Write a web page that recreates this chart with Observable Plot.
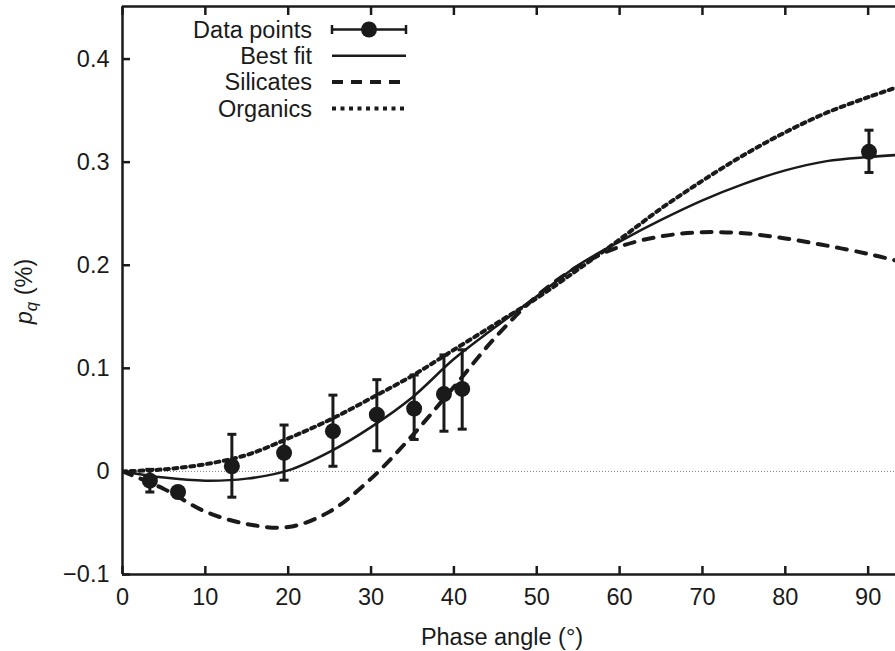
<!DOCTYPE html>
<html><head><meta charset="utf-8">
<script src="https://cdn.jsdelivr.net/npm/d3@7"></script>
<script src="https://cdn.jsdelivr.net/npm/@observablehq/plot@0.6"></script>
<style>
body{margin:0;background:#fff;overflow:hidden}
#chart{position:relative;width:895px;height:651px}
</style>
</head><body><div id="chart"></div>
<script>
// Data points (phase angle in degrees, p_q in %)
const angle  = [3.3, 6.7, 13.2, 19.5, 25.4, 30.7, 35.2, 38.8, 41.0, 90.1];
const pq     = [-0.009, -0.020, 0.005, 0.018, 0.039, 0.055, 0.061, 0.075, 0.080, 0.310];
const pqLow  = [-0.020, -0.024, -0.025, -0.0085, 0.005, 0.020, 0.031, 0.039, 0.041, 0.290];
const pqHigh = [0.002, -0.016, 0.036, 0.045, 0.074, 0.089, 0.0935, 0.113, 0.118, 0.331];

// Model curves
const curveAngle = [0, 5, 10, 15, 20, 25, 30, 35, 40, 45, 50, 55, 60, 65, 70, 75, 80, 85, 90, 93.6];
const bestFit    = [0, -0.006, -0.009, -0.007, 0.001, 0.019, 0.043, 0.072, 0.109, 0.140, 0.170, 0.200, 0.223, 0.244, 0.263, 0.279, 0.292, 0.301, 0.305, 0.307];
const silicates  = [0, -0.017, -0.039, -0.051, -0.054, -0.039, -0.007, 0.035, 0.082, 0.130, 0.170, 0.199, 0.218, 0.228, 0.232, 0.231, 0.226, 0.219, 0.211, 0.204];
const organics   = [0, 0.002, 0.007, 0.016, 0.032, 0.050, 0.071, 0.093, 0.118, 0.143, 0.168, 0.196, 0.225, 0.255, 0.282, 0.307, 0.329, 0.348, 0.363, 0.373];

// Axes
const xDomain = [0, 93.3];
const yDomain = [-0.1, 0.451];
const xTicks = [0, 10, 20, 30, 40, 50, 60, 70, 80, 90];
const xTickLabels = ["0", "10", "20", "30", "40", "50", "60", "70", "80", "90"];
const yTicks = [-0.1, 0, 0.1, 0.2, 0.3, 0.4];
const yTickLabels = ["\u22120.1", "0", "0.1", "0.2", "0.3", "0.4"];
const xLabel = ["Phase angle (\u00b0)"];
const legendLabels = ["Data points", "Best fit", "Silicates", "Organics"];

const ink = "#1a1a1a";
const rows = curveAngle.map((a, i) => ({a, best: bestFit[i], sil: silicates[i], org: organics[i]}));
const pts = angle.map((a, i) => ({a, y: pq[i], lo: pqLow[i], hi: pqHigh[i]}));
const capSymbol = {draw(ctx, size) { const w = Math.sqrt(size / Math.PI); ctx.moveTo(-w, 0); ctx.lineTo(w, 0); }};

const svgNode = Plot.plot({
  width: 895, height: 651,
  marginTop: 6, marginBottom: 77, marginLeft: 122, marginRight: 0,
  style: {fontFamily: "'Liberation Sans', Arial, Helvetica, sans-serif", fontSize: "23.5px", color: ink, background: "#fff", overflow: "visible"},
  x: {domain: xDomain},
  y: {domain: yDomain},
  marks: [
    Plot.ruleY([0], {stroke: "#808080", strokeWidth: 1, strokeDasharray: "1,2"}),
    Plot.line(rows, {x: "a", y: "sil", stroke: ink, strokeWidth: 4, strokeDasharray: "10,9.5", curve: "catmull-rom", clip: true}),
    Plot.line(rows, {x: "a", y: "org", stroke: ink, strokeWidth: 4, strokeDasharray: "4,4.5", curve: "catmull-rom", clip: true}),
    Plot.line(rows, {x: "a", y: "best", stroke: ink, strokeWidth: 2.5, curve: "catmull-rom", clip: true}),
    Plot.ruleX(pts, {x: "a", y1: "lo", y2: "hi", stroke: ink, strokeWidth: 3}),
    Plot.dot(pts, {x: "a", y: "lo", symbol: capSymbol, r: 4.5, stroke: ink, strokeWidth: 3, fill: "none"}),
    Plot.dot(pts, {x: "a", y: "hi", symbol: capSymbol, r: 4.5, stroke: ink, strokeWidth: 3, fill: "none"}),
    Plot.dot(pts, {x: "a", y: "y", r: 8, fill: ink, stroke: "none"}),
    Plot.ruleX([xDomain[0]], {stroke: ink, strokeWidth: 2.5}),
    Plot.ruleY(yDomain, {stroke: ink, strokeWidth: 2.5}),
    Plot.axisX(xTicks, {anchor: "bottom", tickSize: -8, strokeWidth: 2.5, text: null, label: null}),
    Plot.axisX(xTicks, {anchor: "top", tickSize: -8, strokeWidth: 2.5, text: null, label: null}),
    Plot.axisX(xTicks, {anchor: "bottom", tickSize: 0, tickPadding: 14, tickFormat: d => xTickLabels[xTicks.indexOf(d)], label: null}),
    Plot.axisY(yTicks, {anchor: "left", tickSize: -8, strokeWidth: 2.5, text: null, label: null}),
    Plot.axisY(yTicks, {anchor: "left", tickSize: 0, tickPadding: 13, tickFormat: d => yTickLabels[yTicks.indexOf(d)], label: null}),
    Plot.text(xLabel, {frameAnchor: "bottom", dy: 70, dx: -7, fill: ink})
  ]
});

const svg = d3.select(svgNode);

// y-axis label: p_q (%)
const yl = svg.append("text")
  .attr("transform", "translate(32,291.5) rotate(-90)")
  .attr("text-anchor", "middle")
  .attr("fill", ink);
yl.append("tspan").attr("font-style", "italic").text("p");
yl.append("tspan").attr("font-style", "italic").attr("font-size", "17px").attr("dy", 5).text("q");
yl.append("tspan").attr("dy", -5).text(" (%)");

// Legend
const lg = svg.append("g");
const rowY = i => 29.5 + i * 26.3;
const sx0 = 332, sx1 = 406;
legendLabels.forEach((lab, i) => {
  const y = rowY(i);
  lg.append("text").attr("x", 312).attr("y", y).attr("dy", "0.35em").attr("text-anchor", "end").attr("fill", ink).text(lab);
  const line = lg.append("line").attr("x1", sx0).attr("x2", sx1).attr("y1", y).attr("y2", y).attr("stroke", ink);
  if (i === 0) {
    line.attr("stroke-width", 2.5);
    [sx0, sx1].forEach(x => lg.append("line").attr("x1", x).attr("x2", x).attr("y1", y - 4.5).attr("y2", y + 4.5).attr("stroke", ink).attr("stroke-width", 2.5));
    lg.append("circle").attr("cx", 369).attr("cy", y).attr("r", 8).attr("fill", ink);
  } else if (i === 1) {
    line.attr("stroke-width", 2.5);
  } else if (i === 2) {
    line.attr("stroke-width", 4).attr("stroke-dasharray", "11,8");
  } else {
    line.attr("stroke-width", 4).attr("stroke-dasharray", "4,4.5");
  }
});

document.getElementById("chart").appendChild(svgNode);
</script>
</body></html>
